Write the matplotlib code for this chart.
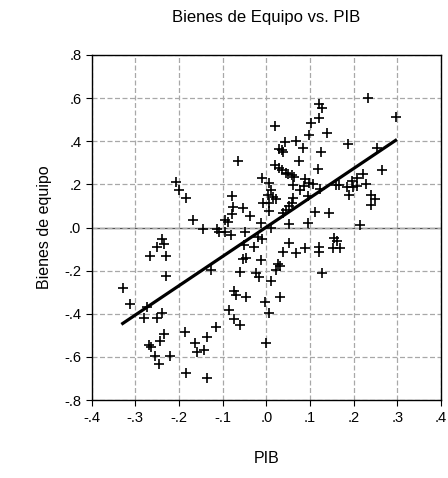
import numpy as np
import matplotlib
matplotlib.use("Agg")
import matplotlib.pyplot as plt
from matplotlib.ticker import FuncFormatter

plt.rcParams["font.family"] = ["Liberation Sans", "DejaVu Sans"]

# PIB growth (x) vs. capital goods growth (y)
pib = [
    -0.206, -0.200, -0.183, -0.169, -0.145, -0.113, -0.108, -0.095, -0.088, -0.095,
    -0.080, -0.065, -0.078, -0.076, -0.078, -0.054, -0.038, -0.050, -0.012, -0.008,
    0.006, 0.007, 0.010, 0.003, 0.016, 0.021, 0.007, -0.009, 0.019, 0.042,
    0.030, 0.035, 0.039, 0.019, 0.030, 0.037, 0.044, 0.049, 0.058, 0.064,
    0.067, 0.085, 0.097, 0.103, 0.120, 0.121, 0.128, 0.139, 0.126, 0.186,
    0.234, 0.296, 0.254, 0.074, 0.118, 0.264, 0.089, 0.097, 0.106, 0.087,
    0.062, 0.076, 0.124, 0.160, 0.167, 0.184, 0.197, 0.207, 0.222, 0.199,
    0.208, 0.229, 0.189, 0.240, 0.249, 0.240, 0.060, 0.058, 0.053, 0.045,
    0.039, 0.095, 0.112, 0.144, 0.051, 0.095, 0.214, 0.156, 0.163, 0.152,
    0.168, 0.120, 0.120, 0.051, 0.039, 0.067, 0.088, 0.127, 0.011, -0.051,
    -0.028, -0.020, -0.011, -0.054, -0.046, -0.012, -0.061, -0.024, -0.016, 0.011,
    0.026, 0.031, 0.021, -0.073, -0.070, -0.046, -0.003, 0.032, -0.086, -0.073,
    -0.061, -0.115, 0.007, 0.000, -0.126, -0.329, -0.313, -0.274, -0.280, -0.250,
    -0.239, -0.234, -0.244, -0.269, -0.265, -0.254, -0.221, -0.245, -0.187, -0.163,
    -0.159, -0.143, -0.137, -0.183, -0.135, -0.240, -0.235, -0.251, -0.267, -0.229,
    -0.230,
]
bienes = [
    0.211, 0.172, 0.137, 0.033, -0.008, -0.008, -0.021, 0.036, 0.024, -0.020,
    -0.034, 0.310, 0.144, 0.095, 0.064, 0.090, 0.054, -0.019, 0.020, 0.113,
    0.078, 0.207, 0.175, 0.152, 0.143, 0.132, 0.113, 0.230, 0.473, 0.397,
    0.366, 0.359, 0.352, 0.292, 0.278, 0.266, 0.254, 0.250, 0.245, 0.233,
    0.403, 0.371, 0.428, 0.486, 0.506, 0.575, 0.554, 0.438, 0.352, 0.385,
    0.599, 0.513, 0.371, 0.307, 0.273, 0.268, 0.227, 0.208, 0.202, 0.194,
    0.199, 0.173, 0.180, 0.196, 0.196, 0.189, 0.217, 0.231, 0.250, 0.187,
    0.194, 0.201, 0.152, 0.152, 0.133, 0.106, 0.138, 0.115, 0.099, 0.082,
    0.067, 0.144, 0.071, 0.068, 0.017, 0.020, 0.013, -0.049, -0.062, -0.096,
    -0.097, -0.088, -0.112, -0.070, -0.113, -0.119, -0.094, -0.209, -0.003, -0.080,
    -0.088, -0.046, -0.054, -0.148, -0.143, -0.150, -0.206, -0.211, -0.231, -0.248,
    -0.167, -0.180, -0.197, -0.292, -0.313, -0.324, -0.344, -0.323, -0.383, -0.422,
    -0.453, -0.460, -0.397, -0.535, -0.197, -0.280, -0.356, -0.369, -0.419, -0.418,
    -0.397, -0.492, -0.525, -0.546, -0.553, -0.597, -0.595, -0.634, -0.483, -0.536,
    -0.577, -0.569, -0.508, -0.676, -0.697, -0.054, -0.076, -0.091, -0.132, -0.132,
    -0.225,
]

# least squares line: intercept, slope
fit_coef = [0.002, 1.358]

x_ticks = [-0.4, -0.3, -0.2, -0.1, 0.0, 0.1, 0.2, 0.3, 0.4]
y_ticks = [-0.8, -0.6, -0.4, -0.2, 0.0, 0.2, 0.4, 0.6, 0.8]


def short_fmt(v, pos):
    s = "%.1f" % v
    return s.replace("0.", ".")


fig = plt.figure(figsize=(4.48, 4.78), dpi=100)
ax = fig.add_axes([0.2047, 0.163, 0.7796, 0.722])

ax.set_xlim(-0.4, 0.4)
ax.set_ylim(-0.8, 0.8)
ax.set_xticks(x_ticks)
ax.set_yticks(y_ticks)
ax.xaxis.set_major_formatter(FuncFormatter(short_fmt))
ax.yaxis.set_major_formatter(FuncFormatter(short_fmt))

ax.grid(True, color="#a8a8a8", linestyle=(0, (4, 2)), linewidth=0.9)
ax.axhline(0, color="#555555", linewidth=1.0, zorder=1)

ax.plot(pib, bienes, linestyle="none", marker="+", color="black",
        markersize=7, markeredgewidth=1.2, zorder=3)

xs = np.array([min(pib), max(pib)])
ax.plot(xs, fit_coef[0] + fit_coef[1] * xs, color="black", linewidth=2.3, zorder=4)

for s in ax.spines.values():
    s.set_linewidth(1.0)
ax.tick_params(direction="out", length=4, width=0.8, labelsize=10.5, colors="black")

ax.set_title("Bienes de Equipo vs. PIB", fontsize=12, pad=24)
ax.set_xlabel("PIB", fontsize=11.5, labelpad=19)
ax.set_ylabel("Bienes de equipo", fontsize=11.5, labelpad=9)

fig.savefig("out.png", dpi=100)
